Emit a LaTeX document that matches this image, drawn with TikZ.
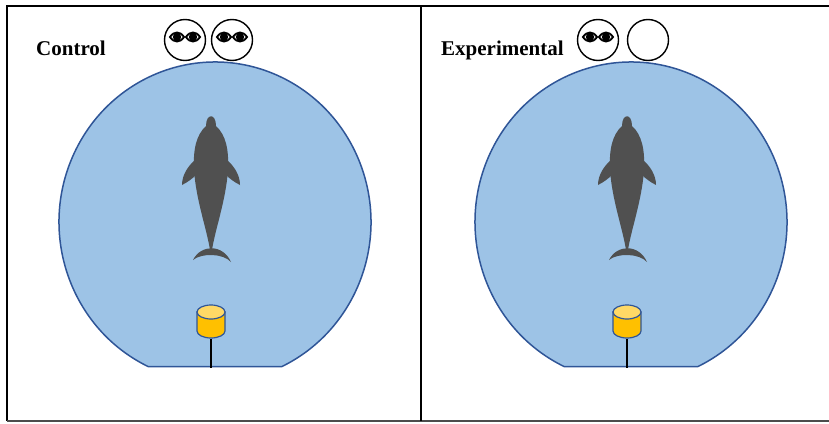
\documentclass[tikz,border=0pt]{standalone}
\usepackage{fontspec}
\setmainfont{Liberation Serif}
\usepackage{tikz}
\usetikzlibrary{positioning}
\usepackage{xcolor}

\definecolor{waterblue}{RGB}{157,195,230}
\definecolor{rimblue}{RGB}{47,85,151}
\definecolor{dolphingray}{RGB}{80,80,80}
\definecolor{tubeorange}{RGB}{255,192,0}
\definecolor{tubetop}{RGB}{255,217,102}

\begin{document}
\begin{tikzpicture}[
    x=1pt, y=-1pt,
    frame/.style={line width=2pt,black},
    pool/.style={fill=waterblue,draw=rimblue,line width=1.5pt},
    watcher/.style={circle,draw=black,line width=1.4pt,fill=white,minimum size=41pt,inner sep=0pt},
    eyeball/.style={draw=black,line width=1.9pt,fill=white},
    title/.style={font=\bfseries\fontsize{21}{24}\selectfont,anchor=base west,inner sep=0pt},
    every node/.style={font=\small},
    eyes/.pic={
        \foreach \ex in {-8,8} {
            \filldraw[eyeball] (\ex-7,-3) .. controls (\ex-3,-9) and (\ex+3,-9) .. (\ex+7,-3)
                .. controls (\ex+3,3) and (\ex-3,3) .. (\ex-7,-3) -- cycle;
            \fill[black] (\ex,-3) circle (4.2);
        }
    },
    dolphin/.pic={
        % body
        \fill[dolphingray] (-5,13) .. controls (-5,0) and (5,0) .. (5,13)
            .. controls (15,22) and (18,37) .. (17,57)
            .. controls (15,87) and (4,117) .. (1,137) -- (-1,137)
            .. controls (-4,117) and (-15,87) .. (-17,57)
            .. controls (-18,37) and (-15,22) .. (-5,13) -- cycle;
        % fins
        \fill[dolphingray] (-16,47) .. controls (-23,53) and (-29,62) .. (-29,72)
            .. controls (-23,69) and (-18,65) .. (-15,62) -- cycle;
        \fill[dolphingray] (16,47) .. controls (23,53) and (29,62) .. (29,72)
            .. controls (23,69) and (18,65) .. (15,62) -- cycle;
        % tail
        \fill[dolphingray] (-18,147) .. controls (-10,131) and (12,131) .. (20,149)
            .. controls (12,140) and (-10,140) .. (-18,147) -- cycle;
    },
    sensor/.pic={
        \filldraw[fill=tubeorange,draw=rimblue,line width=1.2pt] (-14,0) -- (-14,19)
            arc[start angle=180,end angle=0,x radius=14,y radius=7] -- (14,0) -- cycle;
        \filldraw[fill=tubetop,draw=rimblue,line width=1.2pt] (0,0) ellipse[x radius=14,y radius=7];
    }
]
\useasboundingbox (0,0) rectangle (829,423);

% Frame and divider
\draw[frame] (829,6) -- (7,6) -- (7,421);
\draw[frame,black!70] (7,421) -- (829,421);
\draw[frame] (421,6) -- (421,421);

% Left side - Control
\node[title] (ctrl) at (36,55) {Control};
\node[watcher] (ctrlA) at (185,40) {};
\node[watcher] (ctrlB) at (232,40) {};
\pic at (ctrlA.center) {eyes};
\pic at (ctrlB.center) {eyes};

\begin{scope}
    \filldraw[pool] (215,222) ++(115.4:156 and 160)
        arc[start angle=115.4,end angle=424.6,x radius=156,y radius=160] -- cycle;
    \pic at (211,113) {dolphin};
    \pic at (211,312) {sensor};
    \coordinate (rodL) at (211,339);
    \coordinate (floorL) at (211,368);
    \draw[line width=2.5pt] (rodL) -- (floorL);
\end{scope}

% Right side - Experimental
\node[title] (expt) at (441,55) {Experimental};
\node[watcher] (exptA) at (598,40) {};
\node[watcher] (exptB) at (648,40) {};
\pic at (exptA.center) {eyes};

\begin{scope}[xshift=416pt]
    \filldraw[pool] (215,222) ++(115.4:156 and 160)
        arc[start angle=115.4,end angle=424.6,x radius=156,y radius=160] -- cycle;
    \pic at (211,113) {dolphin};
    \pic at (211,312) {sensor};
    \coordinate (rodR) at (211,339);
    \coordinate (floorR) at (211,368);
    \draw[line width=2.5pt] (rodR) -- (floorR);
\end{scope}
\end{tikzpicture}
\end{document}
